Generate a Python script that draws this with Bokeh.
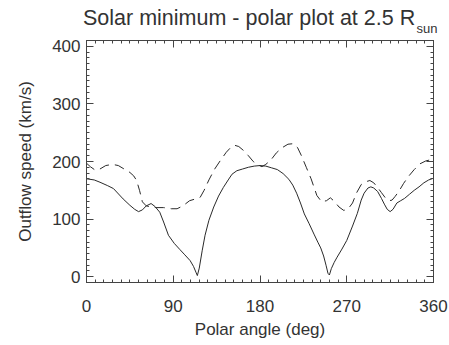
from bokeh.plotting import figure
from bokeh.models import LinearAxis, SingleIntervalTicker, CustomJSTickFormatter, Title
from bokeh.embed import file_html
from bokeh.resources import INLINE

title_main = "Solar minimum - polar plot at 2.5 R"
title_sub = "sun"
x_label = "Polar angle (deg)"
y_label = "Outflow speed (km/s)"

solid_angle = [0, 8, 14, 22, 28, 38, 45, 50, 54, 58, 62, 67, 71, 76, 80, 85, 91, 97, 102,
               107.5, 111, 113.5, 115, 117, 120, 123, 127, 132, 137, 142, 147, 151, 156, 162,
               168, 174, 180, 186, 192, 198, 204, 210, 214, 218, 222, 226, 231, 236, 240, 243,
               246, 248.5, 250.5, 252, 254, 257, 260, 265, 270, 276, 281, 285, 288, 292, 295,
               298, 302, 306, 309, 312, 315, 318, 322, 326, 330, 335, 340, 345, 350, 355, 360]
solid_speed = [170, 168, 164, 158, 153, 135, 124, 117, 113, 116, 123, 127, 122, 112, 95, 72, 58,
               47, 38, 28, 18, 8, 2, 15, 45, 72, 98, 121, 140, 155, 168, 178, 184, 187, 190, 192,
               193, 192, 189, 186, 179, 169, 159, 145, 128, 109, 92, 74, 60, 50, 36, 20, 6, 3,
               14, 25, 34, 48, 63, 88, 110, 133, 145, 154, 156, 154, 148, 136, 126, 117, 113,
               117, 128, 132, 136, 143, 150, 156, 163, 168, 171]

dash_angle = [0, 4, 9, 14, 20, 27, 33, 39, 45, 49, 52, 55, 58, 62, 67, 72, 80, 88, 94, 100,
              107, 113, 118, 122, 127, 133, 139, 145, 150, 154, 158, 163, 168, 173, 178, 182,
              186, 191, 197, 203, 209, 215, 219, 223, 228, 233, 239, 244, 249, 253, 257, 262,
              267, 272, 276, 280, 285, 290, 294, 298, 302, 306, 310, 314, 317, 320, 324, 329,
              334, 340, 346, 352, 357, 360]
dash_speed = [197, 191, 185, 187, 193, 195, 193, 187, 181, 175, 167, 150, 130, 123, 121, 120,
              120, 118, 118, 123, 132, 135, 138, 150, 168, 187, 202, 216, 225, 228, 226, 219,
              210, 200, 194, 191, 195, 202, 215, 224, 230, 231, 224, 210, 190, 170, 141, 130,
              132, 137, 131, 121, 115, 119, 128, 145, 160, 165, 167, 163, 155, 146, 137, 132,
              133, 139, 148, 162, 174, 186, 196, 201, 203, 200]

FONT = "Liberation Sans"
TXT = "#333333"
AX = "#444444"

p = figure(width=449, height=345, x_range=(0, 360), y_range=(-10, 410),
           output_backend="svg", toolbar_location=None,
           min_border_left=86, min_border_right=16, min_border_top=40, min_border_bottom=63)
p.background_fill_color = "white"
p.border_fill_color = "white"
p.outline_line_color = AX
p.grid.visible = False

xt = SingleIntervalTicker(interval=90, num_minor_ticks=10)
yt = SingleIntervalTicker(interval=100, num_minor_ticks=10)

for ax, tk in ((p.xaxis[0], xt), (p.yaxis[0], yt)):
    ax.ticker = tk
    ax.major_tick_in = 7
    ax.major_tick_out = 0
    ax.minor_tick_in = 3
    ax.minor_tick_out = 0
    ax.axis_line_color = AX
    ax.major_tick_line_color = AX
    ax.minor_tick_line_color = AX
    ax.major_label_text_font = FONT
    ax.major_label_text_font_size = "17px"
    ax.major_label_text_color = TXT
    ax.axis_label_text_font = FONT
    ax.axis_label_text_font_size = "17px"
    ax.axis_label_text_font_style = "normal"
    ax.axis_label_text_color = TXT

p.xaxis[0].major_label_standoff = 17
p.yaxis[0].axis_label = y_label
p.yaxis[0].major_label_standoff = 6
p.yaxis[0].axis_label_standoff = 14

blank = CustomJSTickFormatter(code="return ''")
for loc, tk in (("above", xt), ("right", yt)):
    ax = LinearAxis(ticker=tk, formatter=blank)
    ax.major_tick_in = 7
    ax.major_tick_out = 0
    ax.minor_tick_in = 3
    ax.minor_tick_out = 0
    ax.major_label_standoff = 0
    ax.major_label_text_font_size = "0px"
    ax.axis_line_color = AX
    ax.major_tick_line_color = AX
    ax.minor_tick_line_color = AX
    p.add_layout(ax, loc)

# x axis title below the tick labels
p.add_layout(Title(text=x_label, align="center", vertical_align="bottom", standoff=7,
                   text_font=FONT, text_font_size="17px", text_font_style="normal",
                   text_color=TXT), "below")

# subscript (nearest the frame), then the main title above it
p.add_layout(Title(text=title_sub, align="left", vertical_align="top", offset=330, standoff=6,
                   text_font=FONT, text_font_size="13px", text_font_style="normal",
                   text_color=TXT), "above")
p.add_layout(Title(text=title_main, align="left", vertical_align="bottom", offset=-3.5,
                   standoff=-25.5,
                   text_font=FONT, text_font_size="21.5px", text_font_style="normal",
                   text_color=TXT), "above")

p.line(solid_angle, solid_speed, line_color="#2a2a2a", line_width=1)
p.line(dash_angle, dash_speed, line_color="#2a2a2a", line_width=1, line_dash="10 6")

open("out.html", "w").write(file_html(p, INLINE))
